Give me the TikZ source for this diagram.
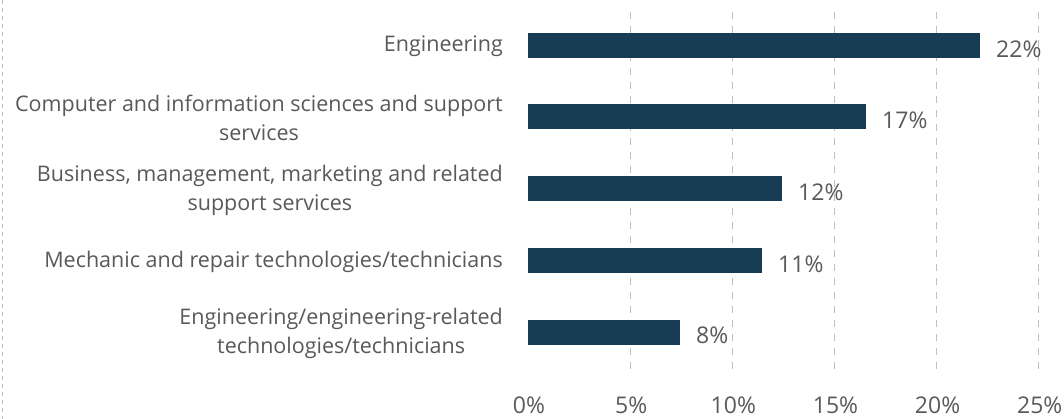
\documentclass[tikz,border=0pt]{standalone}
\usepackage{fontspec}
\setmainfont{Open Sans}
\definecolor{bar}{HTML}{173D55}
\definecolor{txt}{HTML}{595959}
\definecolor{grid}{HTML}{BFBFBF}
\begin{document}
\begin{tikzpicture}[x=1pt,y=-1pt,
  gridline/.style={grid,line width=1.3pt,dash pattern=on 7pt off 7pt},
  barbox/.style={fill=bar,draw=none},
  cat/.style={anchor=east,align=center,text=txt,font=\fontsize{21.5}{29}\selectfont,inner sep=0pt},
  val/.style={anchor=west,text=txt,font=\fontsize{23}{27}\selectfont,inner sep=0pt},
  tick/.style={anchor=center,text=txt,font=\fontsize{23}{27}\selectfont,inner sep=0pt}]
\useasboundingbox (0,0) rectangle (1064,419);
\draw[grid,line width=1pt,dash pattern=on 4pt off 4pt] (2,0) -- (2,419);
\foreach \p in {5,10,15,20,25}{
  \draw[gridline] ({528+\p*20.43},12) -- ({528+\p*20.43},370);
}
\foreach \e/\c/\n/\t in {980/46/a/22\%,866/117/b/17\%,782/189/c/12\%,762/261/d/11\%,680/332/e/8\%}{
  \fill[barbox] (528,{\c-12.5}) rectangle (\e,{\c+12.5});
  \node[val] (v\n) at ({\e+16},{\c+3}) {\t};
}
\node[cat] (ca) at (503,46) {Engineering};
\node[cat] (cb) at (503,118) {Computer and information sciences and support\\services};
\node[cat] (cc) at (503,190) {Business, management, marketing and related\\support services};
\node[cat] (cd) at (503,262) {Mechanic and repair technologies/technicians};
\node[cat] (ce) at (503,333) {Engineering/engineering-related\\technologies/technicians};
\foreach \p in {0,5,10,15,20,25}{
  \node[tick] (t\p) at ({529+\p*20.43},405) {\p\%};
}
\end{tikzpicture}
\end{document}
